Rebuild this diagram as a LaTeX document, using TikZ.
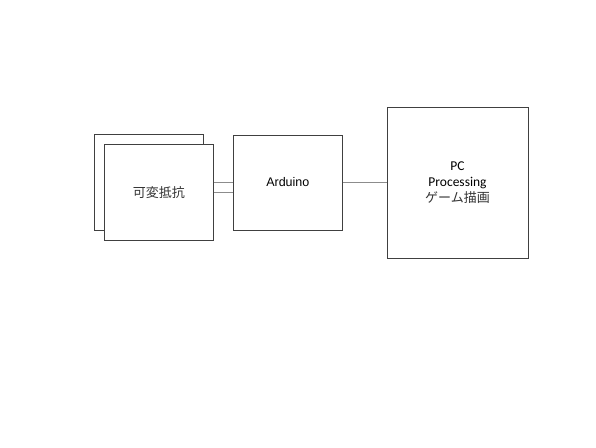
\documentclass[tikz,border=0pt]{standalone}
\usepackage{fontspec}
\setmainfont{Liberation Sans}
\newfontfamily\jpfont{Noto Sans CJK JP}
\newfontfamily\pcfont{Carlito}
\begin{document}
\begin{tikzpicture}[
    x=1pt, y=-1pt,
    box/.style={draw=black!75, line width=0.8pt, fill=white, inner sep=0pt, align=center, font=\fontsize{12.5}{16}\selectfont},
    wire/.style={draw=black!45, line width=0.8pt}
]
\useasboundingbox (0,0) rectangle (596,447);
\node[box, minimum width=108.6pt, minimum height=95.3pt] (resback) at (149,182.4) {};
\node[box, minimum width=109pt, minimum height=95.7pt, font=\jpfont\fontsize{13}{16}\selectfont, text=black!80] (resistor) at (158.8,192.2) {可変抵抗};
\node[box, minimum width=109pt, minimum height=95pt] (arduino) at (287.8,182.5) {Arduino};
\node[box, minimum width=141pt, minimum height=151pt, font=\pcfont\fontsize{13.5}{16}\selectfont] (pc) at (457.5,182.5) {PC\\Processing\\\jpfont\fontsize{13}{16}\selectfont\color{black!80}ゲーム描画};
\draw[wire] (resistor.east |- arduino.west) -- (arduino.west);
\draw[wire] (resistor.east) -- (resistor.east -| arduino.west);
\draw[wire] (arduino.east) -- (pc.west);
\end{tikzpicture}
\end{document}
